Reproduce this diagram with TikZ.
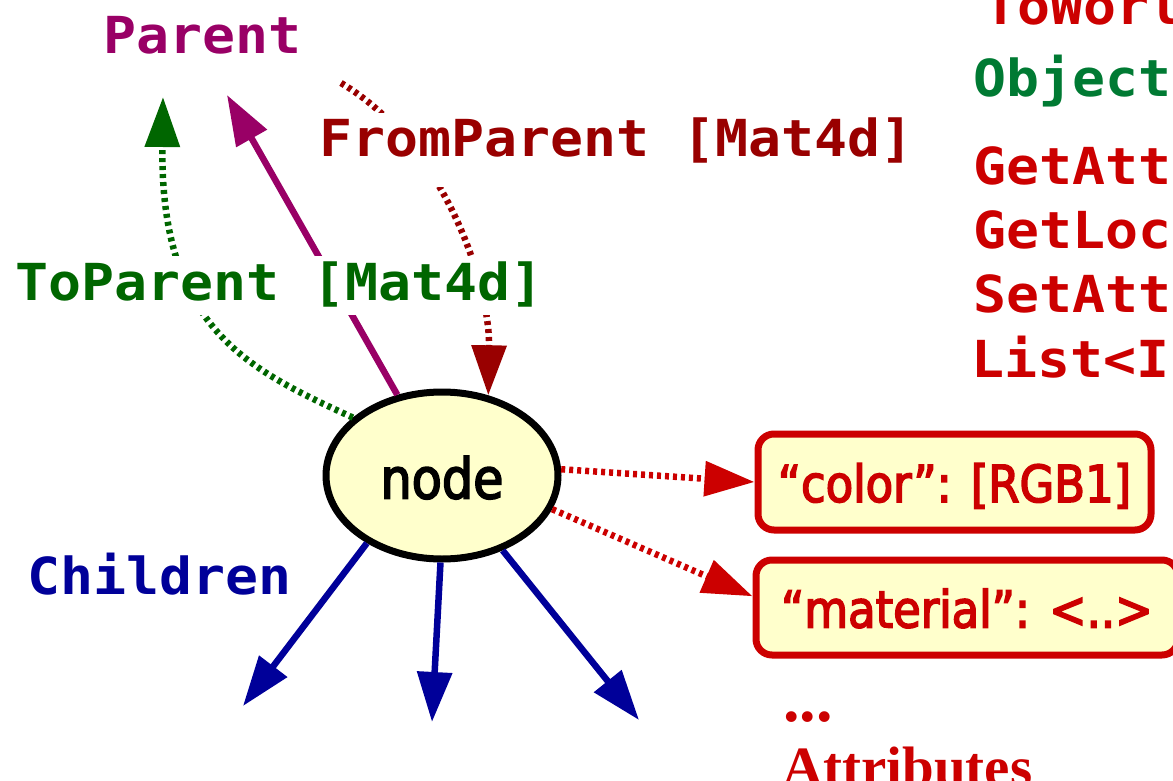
\documentclass[tikz,border=0pt]{standalone}
\usepackage{fontspec}
\usetikzlibrary{arrows.meta,shapes.geometric}
\newfontfamily\monofont{DejaVu Sans Mono}[FakeStretch=1.075]
\newfontfamily\boxfont{DejaVu Sans}[FakeStretch=0.88,FakeBold=3]
\newfontfamily\serifbold{Liberation Serif}
\definecolor{cred}{HTML}{CC0000}
\definecolor{cdred}{HTML}{990000}
\definecolor{cpurple}{HTML}{990066}
\definecolor{cgreen}{HTML}{006600}
\definecolor{cobjgreen}{HTML}{007A33}
\definecolor{cblue}{HTML}{000099}
\definecolor{cyellow}{HTML}{FFFFCC}
\begin{document}
\begin{tikzpicture}[x=1pt,y=-1pt,
  mono/.style={font=\monofont\bfseries\fontsize{51}{60}\selectfont, inner sep=0pt, anchor=base west},
  lbl/.style={mono, fill=white, inner sep=3pt, text height=41pt, text depth=12pt},
  arrowtip/.style={-{Triangle[length=50pt,width=34pt]}},
  dotline/.style={line width=6.5pt, dash pattern=on 4pt off 4pt},
  solidline/.style={line width=6.5pt},
  attrbox/.style={draw=cred, line width=7pt, fill=cyellow, rounded corners=16pt,
    inner sep=0pt, text=cred, font=\boxfont\fontsize{51}{60}\selectfont,
    text height=40pt, text depth=0pt},
  serifred/.style={font=\serifbold\bfseries\fontsize{57}{60}\selectfont, text=cred,
    inner sep=0pt, anchor=base west}
]
\useasboundingbox (0,0) rectangle (1173,781);
\clip (0,0) rectangle (1173,781);

% main node and attribute boxes
\node[ellipse, draw=black, line width=7pt, fill=cyellow, minimum width=232pt,
  minimum height=167pt, inner sep=0pt, font=\boxfont\fontsize{56}{60}\selectfont,
  text height=46pt, text depth=0pt] (n) at (442,475.5) {node};
\node[attrbox, minimum width=393pt, minimum height=96pt] (b1) at (954.5,482) {“color”: [RGB1]};
\node[attrbox, minimum width=422pt, minimum height=95pt] (b2) at (967,607.5) {“material”: <..>};

% free ends
\coordinate (c1) at (243,706);
\coordinate (c2) at (432,722);
\coordinate (c3) at (639,720);
\coordinate (pt) at (227,95);
\coordinate (gt) at (163,97);
\coordinate (fs) at (341,83);

% connectors
\draw[cblue, solidline, arrowtip] (n.222) -- (c1);
\draw[cblue, solidline, arrowtip] (n.269) -- (c2);
\draw[cblue, solidline, arrowtip] (n.309) -- (c3);
\draw[cpurple, solidline, arrowtip] (n.119) -- (pt);
\draw[cgreen, dotline, arrowtip] (n.147) .. controls (250,370) and (160,330) .. (gt);
\draw[cdred, dotline, arrowtip] (fs) .. controls (445,145) and (490,285) .. (n.60);
\draw[cred, dotline, arrowtip] (n.3) -- (b1.west);
\draw[cred, dotline, arrowtip] (n.343) -- (b2.177);

% labels
\node[mono, text=cpurple] (parent) at (103.5,54) {Parent};
\node[lbl, text=cdred, text depth=27pt] (fromlbl) at (316,157) {FromParent [Mat4d]};
\node[lbl, text=cgreen] (tolbl) at (12,300) {ToParent [Mat4d]};
\node[mono, text=cblue] (children) at (27,594) {Children};

% right column (cut by the frame)
\node[mono, text=cred] (r0) at (984,25) {ToWorl};
\node[mono, text=cobjgreen] (r1) at (973,97) {Object};
\node[mono, text=cred] (r2) at (973,185) {GetAtt};
\node[mono, text=cred] (r3) at (973,248) {GetLoc};
\node[mono, text=cred] (r4) at (973,312) {SetAtt};
\node[mono, text=cred] (r5) at (971,377) {List<I};

% attributes caption
\node[serifred, font=\serifbold\bfseries\fontsize{66}{70}\selectfont] (dots) at (783,721) {...};
\node[serifred] (attr) at (782,786) {Attributes};
\end{tikzpicture}
\end{document}
